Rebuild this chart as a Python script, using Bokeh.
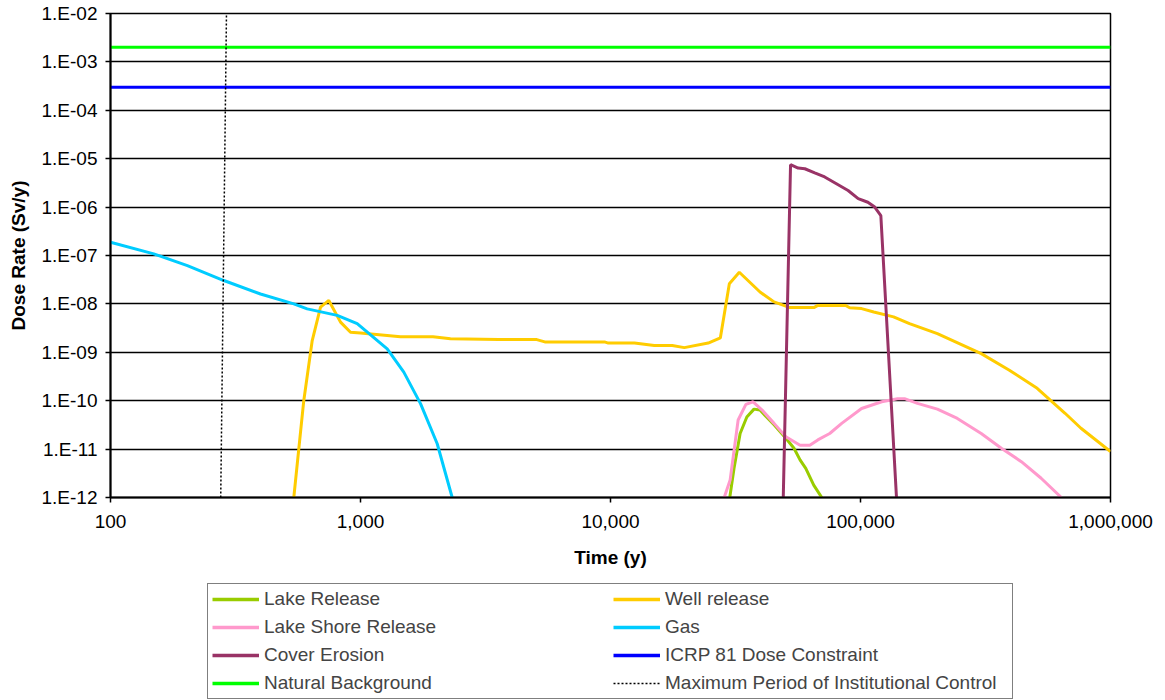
import numpy as np
from bokeh.plotting import figure
from bokeh.layouts import column
from bokeh.models import (Legend, LegendItem, FixedTicker, CustomJSTickFormatter,
                          NumeralTickFormatter, Range1d)
from bokeh.embed import file_html
from bokeh.resources import INLINE

# ---------------- data ----------------
lake_t = [30000, 31200, 33000, 35100, 37500, 39600, 45100, 50300, 54200, 57300, 60400, 65000, 70000]
lake_d = [1e-12, 4e-12, 2.1e-11, 4.6e-11, 6.7e-11, 6.4e-11, 3.2e-11, 1.67e-11, 1.04e-11, 6e-12, 4e-12, 1.8e-12, 1e-12]

well_t = [541, 593, 641, 692, 747, 832, 912, 1000, 1445, 1950, 2290, 3573, 5070, 5460, 9460,
          9800, 12470, 14960, 17660, 19730, 24600, 27500, 29880, 32750, 39640, 45100, 52200,
          65100, 67500, 87300, 90500, 101000, 113000, 135600, 157000, 203000, 304000, 394000,
          509000, 658000, 762000, 1000000]
well_d = [1e-12, 1e-10, 1.75e-9, 8.6e-9, 1.18e-8, 4.2e-9, 2.6e-9, 2.5e-9, 2.1e-9, 2.1e-9, 1.9e-9,
          1.83e-9, 1.83e-9, 1.64e-9, 1.64e-9, 1.55e-9, 1.55e-9, 1.38e-9, 1.38e-9, 1.25e-9,
          1.55e-9, 1.98e-9, 2.6e-8, 4.5e-8, 1.76e-8, 1.1e-8, 8.4e-9, 8.4e-9, 9.3e-9, 9.3e-9,
          8.3e-9, 8e-9, 6.8e-9, 5.4e-9, 3.9e-9, 2.43e-9, 9.4e-10, 4.27e-10, 1.8e-10, 5.5e-11,
          2.7e-11, 8.9e-12]

shore_t = [28500, 30100, 32400, 34800, 37200, 40400, 45100, 50300, 57300, 62700, 67500, 75300,
           84100, 101000, 121600, 140700, 150000, 169000, 203000, 244000, 304000, 366000, 440000,
           528000, 636000]
shore_d = [1e-12, 2.3e-12, 4e-11, 8.4e-11, 9.5e-11, 6.4e-11, 3.4e-11, 1.8e-11, 1.2e-11, 1.2e-11,
           1.55e-11, 2.1e-11, 3.4e-11, 6.9e-11, 9.5e-11, 1.1e-10, 1.1e-10, 8.8e-11, 6.7e-11,
           4.3e-11, 2.1e-11, 1.04e-11, 5.5e-12, 2.5e-12, 1e-12]

gas_t = [100, 149, 203, 284, 398, 541, 612, 807, 970, 1279, 1490, 1738, 2027, 2327]
gas_d = [1.88e-7, 1.08e-7, 6.2e-8, 3.04e-8, 1.6e-8, 1.0e-8, 7.9e-9, 5.8e-9, 3.9e-9, 1.18e-9,
         3.9e-10, 8.7e-11, 1.29e-11, 1e-12]

cover_t = [49100, 52500, 56300, 59900, 65600, 71900, 80100, 89200, 97900, 107000, 114000, 120600, 139300]
cover_d = [1e-12, 7.5e-6, 6.4e-6, 6.2e-6, 5.1e-6, 4.2e-6, 3.04e-6, 2.2e-6, 1.5e-6, 1.26e-6, 1e-6, 6.7e-7, 1e-12]

span_t = [100, 1000000]
icrp_d = [3e-4, 3e-4]
natural_d = [2e-3, 2e-3]

control_t = [276, 291]
control_d = [1e-12, 1e-2]

x_ticks = [100, 1000, 10000, 100000, 1000000]
y_ticks = [1e-12, 1e-11, 1e-10, 1e-9, 1e-8, 1e-7, 1e-6, 1e-5, 1e-4, 1e-3, 1e-2]

series_names = ["Lake Release", "Well release", "Lake Shore Release", "Gas", "Cover Erosion",
                "ICRP 81 Dose Constraint", "Natural Background",
                "Maximum Period of Institutional Control"]
series_colors = ["#99CC00", "#FFCC00", "#FF99CC", "#00CCFF", "#993366", "#0000FF", "#00FF00", "black"]

FONT = "Liberation Sans"

p = figure(frame_width=1000, frame_height=484,
           x_axis_type="log", y_axis_type="log",
           x_range=(100, 1000000), y_range=(1e-12, 1e-2),
           output_backend="svg", toolbar_location=None,
           min_border_left=110, min_border_right=55, min_border_top=13, min_border_bottom=86)

p.background_fill_color = "white"
p.border_fill_color = "white"
p.outline_line_color = "black"
p.outline_line_width = 1.5

# grid
p.xgrid.grid_line_color = None
p.ygrid.grid_line_color = "black"
p.ygrid.grid_line_width = 1.5
p.ygrid.ticker = FixedTicker(ticks=y_ticks)

# axes
p.xaxis.ticker = FixedTicker(ticks=x_ticks, minor_ticks=[])
p.yaxis.ticker = FixedTicker(ticks=y_ticks, minor_ticks=[])
p.xaxis.formatter = NumeralTickFormatter(format="0,0")
p.yaxis.formatter = CustomJSTickFormatter(code="""
const e = Math.round(Math.log10(tick));
return "1.E" + (e < 0 ? "-" : "+") + String(Math.abs(e)).padStart(2, "0");
""")
for ax in (p.xaxis, p.yaxis):
    ax.axis_line_color = "black"
    ax.axis_line_width = 2
    ax.major_tick_line_color = "black"
    ax.major_tick_line_width = 1.5
    ax.major_tick_in = 0
    ax.major_tick_out = 5
    ax.minor_tick_line_color = None
    ax.major_label_text_font = FONT
    ax.major_label_text_font_size = "19px"
    ax.major_label_text_color = "black"
    ax.axis_label_text_font = FONT
    ax.axis_label_text_font_size = "19px"
    ax.axis_label_text_font_style = "bold"
    ax.axis_label_text_color = "black"

p.xaxis.axis_label = "Time (y)"
p.yaxis.axis_label = "Dose Rate (Sv/y)"
p.xaxis.major_label_standoff = 12
p.xaxis.axis_label_standoff = 16
p.yaxis.major_label_standoff = 8
p.yaxis.axis_label_standoff = 10

# series
series_data = [(lake_t, lake_d), (well_t, well_d), (shore_t, shore_d), (gas_t, gas_d),
               (cover_t, cover_d), (span_t, icrp_d), (span_t, natural_d)]
for (t, d), c in zip(series_data, series_colors[:7]):
    p.line(t, d, line_color=c, line_width=3)
p.line(control_t, control_d, line_color="black", line_width=1.5, line_dash="2 2")

# legend figure below the chart
q = figure(width=1165, height=117, x_range=Range1d(0, 1), y_range=Range1d(0, 1),
           output_backend="svg", toolbar_location=None,
           x_axis_location=None, y_axis_location=None,
           min_border_left=0, min_border_right=0, min_border_top=0, min_border_bottom=0)
q.xgrid.grid_line_color = None
q.ygrid.grid_line_color = None
q.outline_line_color = None
q.background_fill_color = "white"
q.border_fill_color = "white"

empty = np.array([np.nan])
handles = {}
for name, c in zip(series_names[:7], series_colors[:7]):
    handles[name] = q.line(empty, empty, line_color=c, line_width=3.5)
handles[series_names[7]] = q.line(empty, empty, line_color="black", line_width=1.5, line_dash="2 2")

order = ["Lake Release", "Lake Shore Release", "Cover Erosion", "Natural Background",
         "Well release", "Gas", "ICRP 81 Dose Constraint",
         "Maximum Period of Institutional Control"]
items = [LegendItem(label=n, renderers=[handles[n]]) for n in order]
legend = Legend(items=items, orientation="vertical", nrows=4,
                location=(97, 1), border_line_color="black", border_line_width=1.5,
                label_text_font=FONT, label_text_font_size="19px",
                glyph_width=47, glyph_height=20, label_standoff=5, label_width=343,
                label_height=22, spacing=6, padding=4, margin=0,
                background_fill_alpha=1.0)
q.add_layout(legend, "center")

layout = column(p, q, spacing=0)
open("out.html", "w").write(file_html(layout, INLINE))
